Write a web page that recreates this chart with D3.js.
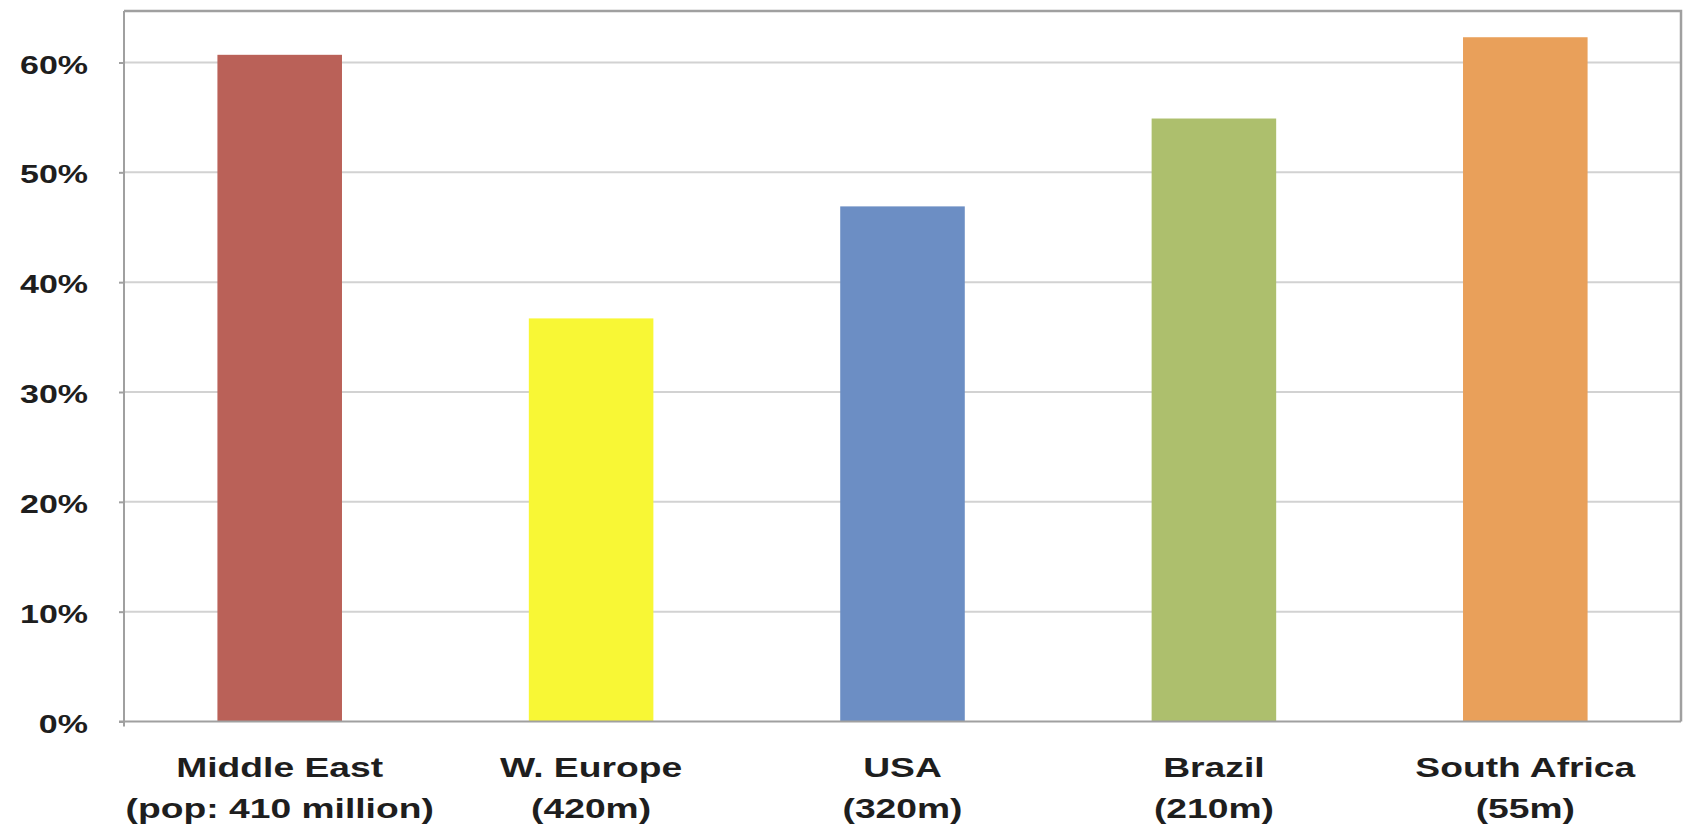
<!DOCTYPE html>
<html>
<head>
<meta charset="utf-8">
<script src="https://cdn.jsdelivr.net/npm/d3@7"></script>
<style>
  html, body { margin: 0; padding: 0; background: #ffffff; }
  svg { display: block; }
  text { font-family: "Liberation Sans", Arial, sans-serif; font-weight: bold; fill: #1e1e1e; }
</style>
</head>
<body>
<svg id="chart" width="1688" height="829"></svg>
<script>
// Regions and their share values
const categories = ["Middle East", "W. Europe", "USA", "Brazil", "South Africa"];
const subLabels = ["(pop: 410 million)", "(420m)", "(320m)", "(210m)", "(55m)"];
const shares = [0.607, 0.367, 0.469, 0.549, 0.623];
const barColors = ["#ba6158", "#f8f735", "#6c8ec4", "#adbf6d", "#e9a05a"];
const yTicks = [0, 0.1, 0.2, 0.3, 0.4, 0.5, 0.6];

const svg = d3.select("#chart");

const plot = { left: 124, right: 1681, top: 11, zeroY: 721.5, topTickY: 62.5 };
const labelStretch = 1.33;
const tickStretch = 1.36;

const x = d3.scaleBand()
  .domain(categories)
  .range([plot.left, plot.right])
  .paddingInner(0.6)
  .paddingOuter(0.3);

const y = d3.scaleLinear()
  .domain([0, 0.6])
  .range([plot.zeroY, plot.topTickY]);

// Horizontal gridlines
svg.append("g")
  .selectAll("line")
  .data(yTicks.filter(d => d > 0))
  .join("line")
  .attr("x1", plot.left)
  .attr("x2", plot.right)
  .attr("y1", d => y(d))
  .attr("y2", d => y(d))
  .attr("stroke", "#d2d2d2")
  .attr("stroke-width", 2);

// Plot frame (top and right edges)
svg.append("path")
  .attr("d", `M${plot.left},${plot.top}H${plot.right}V${plot.zeroY}`)
  .attr("fill", "none")
  .attr("stroke", "#a0a0a0")
  .attr("stroke-width", 2.5);

// Bars
svg.append("g")
  .selectAll("rect")
  .data(categories)
  .join("rect")
  .attr("x", d => x(d))
  .attr("width", x.bandwidth())
  .attr("y", (d, i) => y(shares[i]))
  .attr("height", (d, i) => y(0) - y(shares[i]))
  .attr("fill", (d, i) => barColors[i]);

// Y axis
const yAxis = svg.append("g")
  .attr("transform", `translate(${plot.left},0)`)
  .call(d3.axisLeft(y)
    .tickValues(yTicks)
    .tickFormat(d3.format(".0%"))
    .tickSizeInner(5)
    .tickSizeOuter(0));
yAxis.select(".domain")
  .attr("stroke", "#a0a0a0")
  .attr("stroke-width", 2)
  .attr("d", `M0,${plot.top}V${plot.zeroY + 5}`);
yAxis.selectAll(".tick line").attr("stroke", "#a0a0a0").attr("stroke-width", 2);
yAxis.selectAll(".tick text")
  .attr("x", -36 / tickStretch)
  .attr("dy", "0.42em")
  .attr("transform", `scale(${tickStretch},1)`)
  .style("font-size", "25px")
  .style("font-family", "'Liberation Sans', Arial, sans-serif")
  .style("font-weight", "bold")
  .attr("fill", "#1e1e1e");

// X axis baseline
svg.append("line")
  .attr("x1", plot.left - 5)
  .attr("x2", plot.right)
  .attr("y1", y(0))
  .attr("y2", y(0))
  .attr("stroke", "#a0a0a0")
  .attr("stroke-width", 2);

// Category labels (two lines each)
const labels = svg.append("g")
  .selectAll("g")
  .data(categories)
  .join("g")
  .attr("transform", d => `translate(${x(d) + x.bandwidth() / 2},0) scale(${labelStretch},1)`);

labels.append("text")
  .attr("text-anchor", "middle")
  .attr("y", 777)
  .style("font-size", "28px")
  .text(d => d);

labels.append("text")
  .attr("text-anchor", "middle")
  .attr("y", 818)
  .style("font-size", "28px")
  .text((d, i) => subLabels[i]);
</script>
</body>
</html>
